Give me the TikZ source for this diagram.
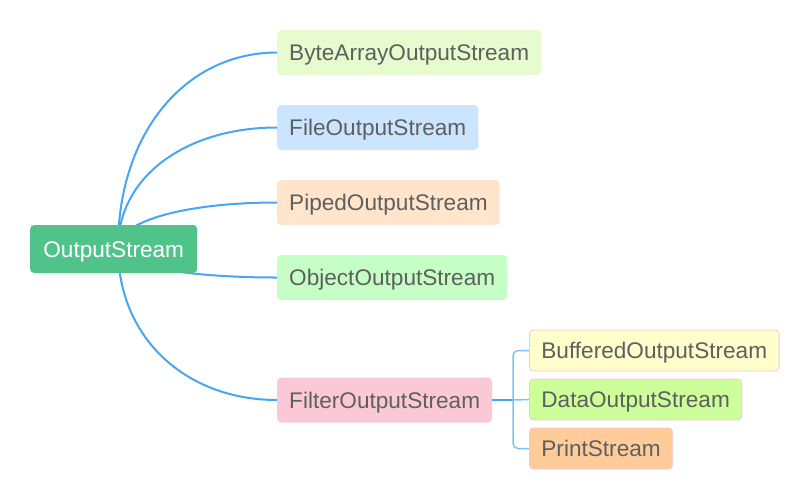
\documentclass[tikz,border=0pt]{standalone}
\usepackage{fontspec}
\usetikzlibrary{calc}
\setmainfont{Liberation Sans}
\definecolor{rootgreen}{HTML}{50C38B}
\definecolor{linkblue}{HTML}{47A5F5}
\definecolor{sublinkblue}{HTML}{80C0F8}
\definecolor{textgray}{HTML}{5F5F5F}
\definecolor{bytefill}{HTML}{E6FCCF}
\definecolor{filefill}{HTML}{CCE5FF}
\definecolor{pipedfill}{HTML}{FFE5CC}
\definecolor{objectfill}{HTML}{C5FFC5}
\definecolor{filterfill}{HTML}{FBC9D5}
\definecolor{bufferedfill}{HTML}{FFFFCC}
\definecolor{datafill}{HTML}{CCFF99}
\definecolor{printfill}{HTML}{FFCC99}
\definecolor{pinkline}{HTML}{F8C4D0}
\tikzset{
  topic/.style={anchor=west, rounded corners=4pt, inner xsep=12pt, minimum height=45pt,
    text height=16pt, text depth=0pt,
    text=textgray, font=\fontsize{22.6}{27}\selectfont},
  subtopic/.style={topic, minimum height=41pt, draw=pinkline, line width=0.8pt},
  link/.style={draw=linkblue, line width=2pt},
  sublink/.style={draw=sublinkblue, line width=1.5pt, rounded corners=5pt}
}

\begin{document}
\begin{tikzpicture}[x=1pt, y=-1pt]
		\useasboundingbox (0,0) rectangle (810,499);
		\node[topic, fill=bytefill] (bytearray) at (277,52.5) {ByteArrayOutputStream};
		\node[topic, fill=filefill] (file) at (277,127.5) {FileOutputStream};
		\node[topic, fill=pipedfill] (piped) at (277,202.5) {PipedOutputStream};
		\node[topic, fill=objectfill] (object) at (277,277.5) {ObjectOutputStream};
		\node[topic, fill=filterfill] (filter) at (277,400) {FilterOutputStream};
		\node[subtopic, fill=bufferedfill] (buffered) at (529,350.5) {BufferedOutputStream};
		\node[subtopic, fill=datafill] (data) at (529,399.5) {DataOutputStream};
		\node[subtopic, fill=printfill] (print) at (529,448.5) {PrintStream};
		\coordinate (hub) at (118,248);
		\coordinate (fork) at (513,400);
		\foreach \child in {bytearray, file, piped, object, filter}
			\draw[link] (hub) .. controls ($(hub)!0.6!(hub |- \child.west)$) and ([xshift=-90pt]\child.west) .. (\child.west);
		\draw[link] (filter.east) -- (fork);
		\draw[sublink] (fork) |- (buffered.west);
		\draw[sublink] (fork) -- (data.west);
		\draw[sublink] (fork) |- (print.west);
		\node[topic, fill=rootgreen, text=white, minimum height=48pt, minimum width=167pt] (root) at (30,249) {OutputStream};
	\end{tikzpicture}
\end{document}
